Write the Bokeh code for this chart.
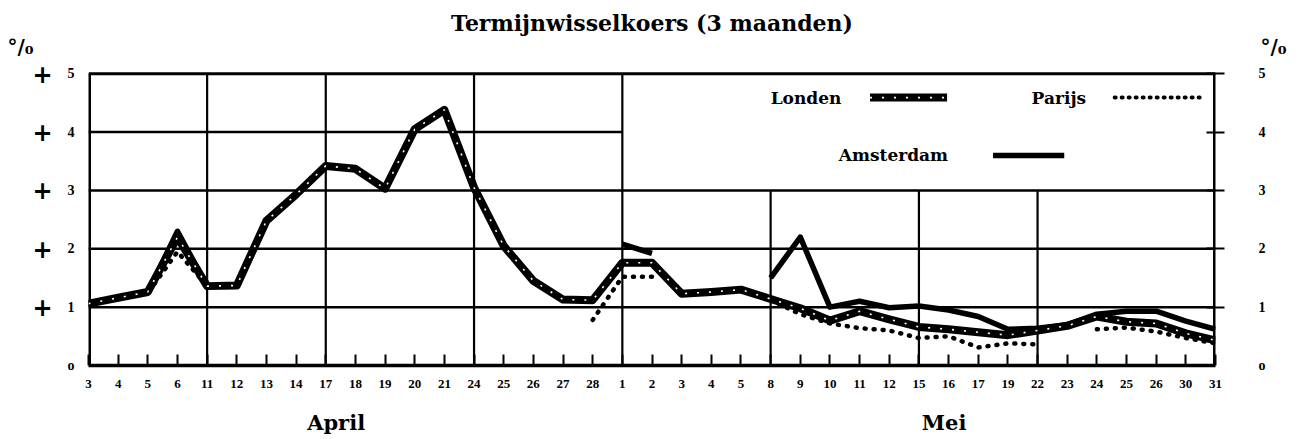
import math
from bokeh.plotting import figure
from bokeh.models import Range1d, LinearAxis, FixedTicker
from bokeh.core.properties import value
from bokeh.embed import file_html
from bokeh.resources import INLINE

NaN = float("nan")

# trading days (April 3 .. 28, Mei 1 .. 31)
days = ["3", "4", "5", "6", "11", "12", "13", "14", "17", "18", "19", "20", "21",
        "24", "25", "26", "27", "28",
        "1", "2", "3", "4", "5", "8", "9", "10", "11", "12", "15", "16", "17", "19",
        "22", "23", "24", "25", "26", "30", "31"]
months = ["April", "Mei"]

londen = [1.06, 1.16, 1.26, 2.20, 1.36, 1.37, 2.48, 2.93, 3.42, 3.37, 3.03, 4.05, 4.38,
          3.05, 2.05, 1.45, 1.13, 1.12,
          1.76, 1.76, 1.23, 1.26, 1.30, 1.14, 0.98, 0.77, 0.93, 0.79, 0.66, 0.62, 0.57, 0.52,
          0.60, 0.68, 0.84, 0.75, 0.72, 0.55, 0.43]
amsterdam = [1.06, 1.16, 1.26, 2.30, 1.36, 1.37, 2.48, 2.93, 3.42, 3.37, 3.03, 4.05, 4.38,
             3.05, 2.05, 1.45, 1.13, NaN,
             2.08, 1.92, NaN, NaN, NaN, 1.50, 2.20, 1.00, 1.10, 0.99, 1.02, 0.95, 0.84, 0.62,
             0.64, 0.70, 0.88, 0.93, 0.93, 0.76, 0.62]
parijs = [1.04, 1.14, 1.24, 1.95, 1.36, 1.37, 2.48, 2.93, 3.42, 3.37, 3.03, 4.05, 4.38,
          3.05, 2.05, 1.45, NaN, 0.78,
          1.52, 1.52, NaN, NaN, NaN, 1.12, 0.88, 0.72, 0.64, 0.60, 0.47, 0.50, 0.31, 0.38,
          0.36, NaN, 0.62, 0.65, 0.58, 0.47, 0.38]

y_ticks = [0, 1, 2, 3, 4, 5]
y_labels = ["o", "1", "2", "3", "4", "5"]

title_text = "Termijnwisselkoers (3 maanden)"
unit_text = "°/₀"

SERIF = "Liberation Serif"
WIDE = "DejaVu Serif"
x = list(range(len(days)))
n_last = len(days) - 1
Y_TOP = 5.5      # room above the chart for the unit labels
UNIT_Y = 5.45

p = figure(width=1298, height=439, output_backend="svg", toolbar_location=None,
           x_range=Range1d(0, n_last), y_range=Range1d(0, Y_TOP),
           x_axis_location=None, y_axis_location=None,
           min_border_left=88, min_border_right=83, min_border_top=44, min_border_bottom=74)
p.grid.visible = False
p.outline_line_color = None
p.background_fill_color = "white"
p.border_fill_color = "white"

p.title.text = title_text
p.title.align = "center"
p.title.vertical_align = "top"
p.title.text_font = WIDE
p.title.text_font_style = "bold"
p.title.text_font_size = "22px"
p.title.text_color = "black"
p.title.standoff = 14

# ---- chart border and partial grid ----
p.segment(x0=[0], x1=[n_last], y0=[5], y1=[5], line_color="black", line_width=3)
p.segment(x0=[0, n_last], x1=[0, n_last], y0=[0, 0], y1=[5, 5], line_color="black", line_width=5)
full_h = [1, 2, 3]
p.segment(x0=[0] * len(full_h), x1=[n_last] * len(full_h), y0=full_h, y1=full_h,
          line_color="black", line_width=2.5)
p.segment(x0=[0], x1=[18], y0=[4], y1=[4], line_color="black", line_width=2.5)
week_full = [4, 8, 13, 18]
week_short = [23, 28, 32]
p.segment(x0=week_full, x1=week_full, y0=[0] * 4, y1=[5] * 4, line_color="black", line_width=2.2)
p.segment(x0=week_short, x1=week_short, y0=[0] * 3, y1=[3] * 3, line_color="black", line_width=2.2)

# ---- series ----
p.line(x, parijs, line_color="black", line_width=4.5, line_dash="1 8", line_cap="round")
p.line(x, amsterdam, line_color="black", line_width=5.5, line_join="round")
p.line(x, londen, line_color="black", line_width=8, line_join="round")
p.line(x, londen, line_color="white", line_width=1.6, line_dash="2 10")

# ---- legend (inside upper right) ----
lf = dict(text_font=value(WIDE), text_font_style="bold", text_font_size="17px",
          text_baseline="middle", text_color="black")
p.text(x=[23.0], y=[4.59], text=["Londen"], **lf)
p.text(x=[31.8], y=[4.59], text=["Parijs"], **lf)
p.text(x=[25.3], y=[3.6], text=["Amsterdam"], **lf)
p.line([26.35, 28.95], [4.59, 4.59], line_color="black", line_width=8)
p.line([26.35, 28.95], [4.59, 4.59], line_color="white", line_width=1.6, line_dash="2 10")
p.line([34.6, 37.6], [4.59, 4.59], line_color="black", line_width=4, line_dash="1 6", line_cap="round")
p.line([30.5, 32.9], [3.6, 3.6], line_color="black", line_width=5.5)


def plain_axis(ticks, labels, standoff, font, size, style="bold"):
    ax = LinearAxis(ticker=FixedTicker(ticks=ticks),
                    major_label_overrides={t: l for t, l in zip(ticks, labels)})
    ax.axis_line_color = None
    ax.major_tick_line_color = None
    ax.minor_tick_line_color = None
    ax.major_label_standoff = standoff
    ax.major_label_text_font = font
    ax.major_label_text_font_style = style
    ax.major_label_text_font_size = size
    ax.major_label_text_color = "black"
    return ax


# ---- axes ----
xa = LinearAxis(ticker=FixedTicker(ticks=x),
                major_label_overrides={i: d for i, d in enumerate(days)})
xa.major_tick_in = 11
xa.major_tick_out = 0
xa.major_tick_line_width = 2
xa.minor_tick_line_color = None
xa.axis_line_width = 3.5
xa.major_label_standoff = 14
xa.major_label_text_font = SERIF
xa.major_label_text_font_style = "bold"
xa.major_label_text_font_size = "13px"
xa.major_label_text_color = "black"
p.add_layout(xa, "below")

month_pos = [8.35, 28.85]
p.add_layout(plain_axis(month_pos, months, 13, WIDE, "21px"), "below")

p.add_layout(plain_axis(y_ticks, y_labels, 8, SERIF, "14px"), "left")
p.add_layout(plain_axis(y_ticks[1:], ["+"] * 5, 6, "DejaVu Sans", "24px"), "left")
p.add_layout(plain_axis([UNIT_Y], [unit_text], -10, WIDE, "20px"), "left")

rc = LinearAxis(ticker=FixedTicker(ticks=y_ticks[1:]),
                major_label_overrides={t: "" for t in y_ticks[1:]})
rc.axis_line_color = None
rc.major_tick_in = 9
rc.major_tick_out = 9
rc.major_tick_line_width = 2
rc.minor_tick_line_color = None
rc.major_label_standoff = 0
p.add_layout(rc, "right")

p.add_layout(plain_axis(y_ticks, y_labels, 28, SERIF, "14px"), "right")
p.add_layout(plain_axis([UNIT_Y], [unit_text], -14, WIDE, "20px"), "right")

open("out.html", "w").write(file_html(p, INLINE))
